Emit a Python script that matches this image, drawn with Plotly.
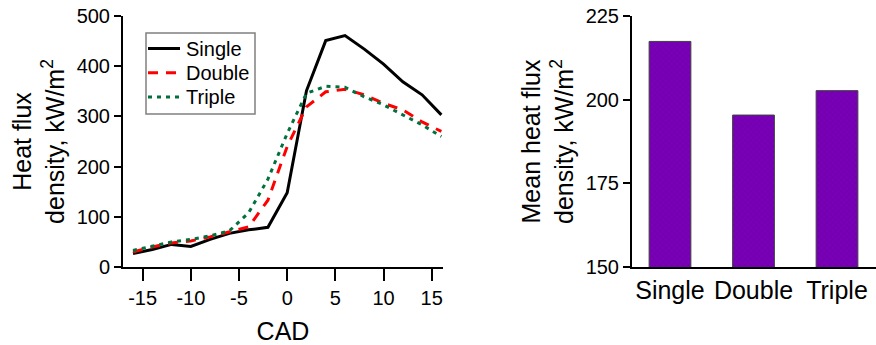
import plotly.graph_objects as go

cad = [-16, -14, -12, -10, -8, -6, -4, -2, 0, 2, 4, 6, 8, 10, 12, 14, 16]
single = [27, 35, 45, 41, 55, 67, 74, 79, 148, 351, 451, 461, 434, 404, 369, 343, 303]
double = [30, 40, 48, 52, 60, 70, 80, 133, 240, 319, 349, 354, 343, 326, 313, 289, 270]
triple = [33, 42, 50, 55, 62, 72, 108, 175, 266, 346, 360, 358, 339, 323, 303, 283, 260]

cad_ticks = [-15, -10, -5, 0, 5, 10, 15]
cad_ticktext = ["-15", "-10", "-5", "0", "5", "10", "15"]

categories = ["Single", "Double", "Triple"]
mean_flux = [217.4, 195.4, 202.7]

W, H = 876, 345
FONT = "Liberation Sans, Arial, sans-serif"

styles = {
    "Single": dict(color="black", width=3, dash="solid"),
    "Double": dict(color="#FF0000", width=3, dash="10px,8px"),
    "Triple": dict(color="#00703C", width=3, dash="4px,5px"),
}
series = {"Single": single, "Double": double, "Triple": triple}

fig = go.Figure()
for name, vals in series.items():
    fig.add_trace(go.Scatter(x=cad, y=vals, name=name, mode="lines", showlegend=False,
                             line=styles[name], xaxis="x", yaxis="y"))

fig.add_trace(go.Bar(x=categories, y=mean_flux, width=0.5, showlegend=False,
                     marker=dict(color="#7A00B8",
                                 line=dict(color="#404040", width=1),
                                 pattern=dict(shape="x", fgcolor="#5A0090", size=4, solidity=0.3)),
                     xaxis="x2", yaxis="y2"))

ydom = [1 - 267 / H, 1 - 16 / H]
axis_common = dict(showline=True, linecolor="black", linewidth=2, showgrid=False,
                   zeroline=False, ticks="outside", tickcolor="black", tickwidth=2,
                   automargin=False,
                   tickfont=dict(size=20, color="black", family=FONT))

def px(x):
    return x / W

def py(y):
    return 1 - y / H

# framed key for the three line series
shapes = [dict(type="rect", xref="paper", yref="paper",
               x0=px(146), x1=px(255), y0=py(114), y1=py(33),
               line=dict(color="#808080", width=1.5), fillcolor="white", layer="above")]
annotations = []
for i, name in enumerate(series):
    yc = 48.5 + 24.3 * i
    st = styles[name]
    shapes.append(dict(type="line", xref="paper", yref="paper",
                       x0=px(148), x1=px(180), y0=py(yc), y1=py(yc),
                       line=dict(color=st["color"], width=st["width"], dash=st["dash"]),
                       layer="above"))
    annotations.append(dict(xref="paper", yref="paper", x=px(184), y=py(yc),
                            xanchor="left", yanchor="middle", showarrow=False,
                            text=name, font=dict(size=20, color="black", family=FONT)))

fig.update_layout(
    width=W, height=H,
    margin=dict(l=0, r=0, t=0, b=0, autoexpand=False),
    paper_bgcolor="white", plot_bgcolor="white",
    font=dict(family=FONT, color="black"),
    showlegend=False,
    shapes=shapes,
    annotations=annotations,
    xaxis=dict(domain=[123 / W, 443 / W], range=[-17.04, 16.17],
               tickvals=cad_ticks, ticktext=cad_ticktext, ticklen=12,
               title=dict(text="CAD", font=dict(size=25), standoff=14),
               anchor="y", **axis_common),
    yaxis=dict(domain=ydom, range=[0, 500], tickvals=[0, 100, 200, 300, 400, 500],
               ticklen=7,
               title=dict(text="Heat flux<br>density, kW/m<sup>2</sup>", font=dict(size=25), standoff=5),
               anchor="x", **axis_common),
    xaxis2=dict(domain=[632 / W, 1.0], range=[-0.455, 2.467], anchor="y2",
                showline=True, linecolor="black", linewidth=2, showgrid=False,
                zeroline=False, ticks="", automargin=False,
                tickfont=dict(size=25, color="black", family=FONT)),
    yaxis2=dict(domain=ydom, range=[150, 225], tickvals=[150, 175, 200, 225],
                ticklen=7, anchor="x2",
                title=dict(text="Mean heat flux<br>density, kW/m<sup>2</sup>", font=dict(size=25), standoff=5),
                **axis_common),
)

fig.write_html("out.html", config={"displayModeBar": False},
               post_script="document.body.style.margin='0px';")
